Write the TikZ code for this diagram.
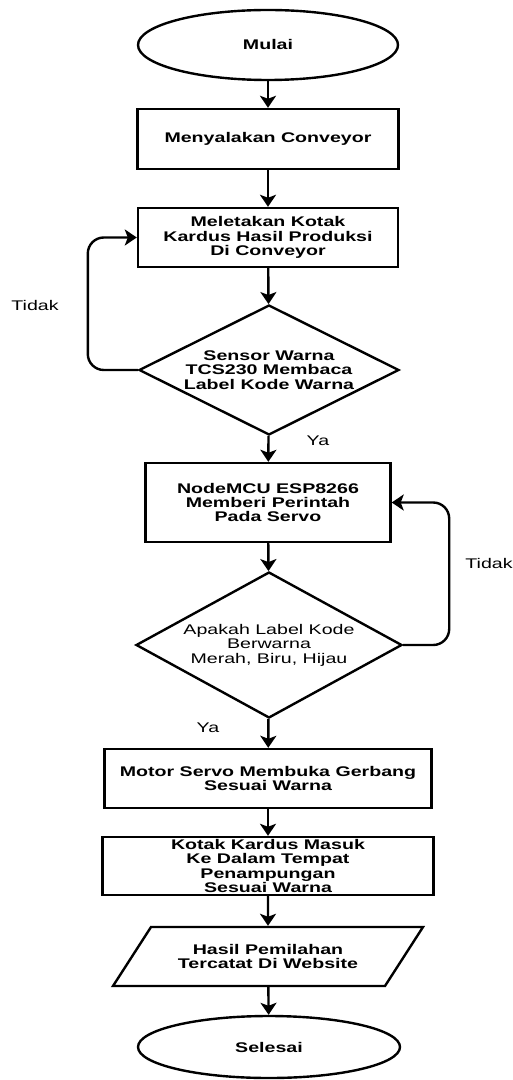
\documentclass[tikz,border=0pt]{standalone}
\usepackage{fontspec}
\setmainfont{Liberation Sans}[FakeStretch=1.4]
\usetikzlibrary{shapes.geometric,arrows.meta}

\begin{document}
\begin{tikzpicture}[x=0.5pt,y=-0.5pt,>={Stealth[length=6pt,width=8pt,inset=1.5pt]},line width=1.2pt,
    every node/.style={font=\fontsize{7pt}{7.2pt}\selectfont},
    term/.style={draw,ellipse,minimum width=130pt,minimum height=35pt,font=\fontsize{7pt}{7.2pt}\selectfont\bfseries},
    proc/.style={draw,rectangle,align=center,font=\fontsize{7pt}{7.2pt}\selectfont\bfseries},
    dec/.style={draw,diamond,aspect=2,inner sep=0pt,align=center},
    io/.style={draw,trapezium,trapezium left angle=45,trapezium right angle=135,trapezium stretches body,align=center,font=\fontsize{7pt}{7.2pt}\selectfont\bfseries}]
    \useasboundingbox (0,0) rectangle (513,1080);

    \node[term] (mulai) at (268,45) {Mulai};
    \node[proc,minimum width=130.5pt,minimum height=30pt] (conv) at (268,139) {Menyalakan Conveyor};
    \node[proc,minimum width=130pt,minimum height=29.5pt] (letak) at (268,237.5) {Meletakan Kotak\\Kardus Hasil Produksi\\Di Conveyor};
    \node[dec,font=\fontsize{7pt}{7.2pt}\selectfont\bfseries,minimum width=130pt,minimum height=65pt] (sensor) at (269,370) {Sensor Warna\\TCS230 Membaca\\Label Kode Warna};
    \node[proc,minimum width=122.5pt,minimum height=39.5pt] (nodemcu) at (268,502.5) {NodeMCU ESP8266\\Memberi Perintah\\Pada Servo};
    \node[dec,minimum width=133pt,minimum height=73pt] (cek) at (269,645) {Apakah Label Kode\\Berwarna\\Merah, Biru, Hijau};
    \node[proc,minimum width=163.5pt,minimum height=29.5pt] (servo) at (268,778.5) {Motor Servo Membuka Gerbang\\Sesuai Warna};
    \node[proc,inner sep=1pt,minimum width=165.5pt,minimum height=29pt] (masuk) at (268,866) {Kotak Kardus Masuk\\Ke Dalam Tempat\\Penampungan\\Sesuai Warna};
    \node[io,minimum width=155pt,minimum height=29.5pt] (hasil) at (268,956.5) {Hasil Pemilahan\\Tercatat Di Website};
    \node[term,minimum width=131pt,minimum height=31pt] (selesai) at (269,1047) {Selesai};

    % labels
    \node (tidak1) at (35,305) {Tidak};
    \node (ya1) at (318,441) {Ya};
    \node (tidak2) at (489,563) {Tidak};
    \node (ya2) at (208,728) {Ya};

    \draw[->] (mulai) -- (conv);
    \draw[->] (conv) -- (letak);
    \draw[->] (letak) -- (sensor);
    \draw[->] (sensor) -- (nodemcu);
    \draw[->,rounded corners=8pt] (sensor.west) -- ++(-50,0) |- (letak.west);
    \draw[->] (nodemcu) -- (cek);
    \draw[->,rounded corners=8pt] (cek.east) -- ++(46,0) |- (nodemcu.east);
    \draw[->] (cek) -- (servo);
    \draw[->] (servo) -- (masuk);
    \draw[->] (masuk) -- (hasil);
    \draw[->] (hasil) -- (selesai);
\end{tikzpicture}
\end{document}
